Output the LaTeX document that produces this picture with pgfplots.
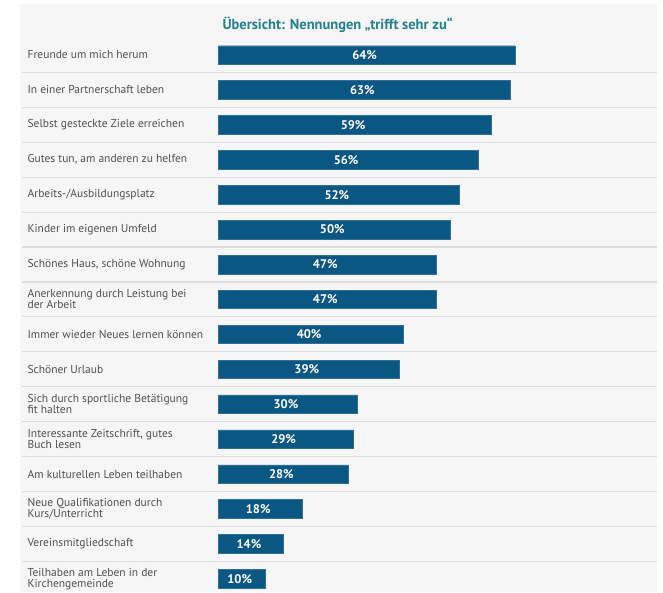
\documentclass[border=0pt]{standalone}
\usepackage{fontspec}
\setmainfont{PT Sans}
\usepackage{pgfplots}
\pgfplotsset{compat=1.18}
\usepackage{pgfplotstable}

\definecolor{barblue}{HTML}{0B5784}
\definecolor{titleteal}{HTML}{23808C}
\definecolor{panelbg}{HTML}{F6F6F6}
\definecolor{sepgray}{HTML}{DDDDDD}
\definecolor{labelgray}{HTML}{505050}

% row index (top = 0), share "trifft sehr zu" in %
\pgfplotstableread[col sep=comma]{
y,v
0,64
1,63
2,59
3,56
4,52
5,50
6,47
7,47
8,40
9,39
10,30
11,29
12,28
13,18
14,14
15,10
}\data

\begin{document}
\begin{tikzpicture}
\begin{axis}[
    scale only axis,
    width=663pt, height=592pt,
    xmin=-47.19, xmax=96.0,
    ymin=-1.575, ymax=15.374,
    y dir=reverse,
    axis on top,
    axis line style={draw=none},
    xtick=\empty,
    ytick={0,...,15},
    major tick length=0pt,
    yticklabels={
        {Freunde um mich herum},
        {In einer Partnerschaft leben},
        {Selbst gesteckte Ziele erreichen},
        {Gutes tun, am anderen zu helfen},
        {Arbeits-/Ausbildungsplatz},
        {Kinder im eigenen Umfeld},
        {Schönes Haus, schöne Wohnung},
        {Anerkennung durch Leistung bei\\der Arbeit},
        {Immer wieder Neues lernen können},
        {Schöner Urlaub},
        {Sich durch sportliche Betätigung\\fit halten},
        {Interessante Zeitschrift, gutes\\Buch lesen},
        {Am kulturellen Leben teilhaben},
        {Neue Qualifikationen durch\\Kurs/Unterricht},
        {Vereinsmitgliedschaft},
        {Teilhaben am Leben in der\\Kirchengemeinde}},
    yticklabel style={anchor=west, xshift=24pt, align=left,
        font=\fontsize{11.5}{11}\selectfont, text=labelgray},
    bar width=18.5pt,
    clip=false,
]
% panel and row separators
\fill[panelbg] (axis cs:-42.87,-1.46) rectangle (axis cs:94.71,15.374);
\pgfplotsinvokeforeach{0,...,14}{
    \draw[sepgray, line width=1.2pt] (axis cs:-42.44,#1+0.5) -- (axis cs:94.71,#1+0.5);
}
\node[anchor=west, font=\bfseries\fontsize{14.5}{16}\selectfont, text=titleteal]
    at (axis cs:0.1,-0.86) {Übersicht: Nennungen „trifft sehr zu“};

\addplot[xbar, fill=barblue, draw=barblue!85!white] table[x=v, y=y] {\data};

% value labels centred in the bars
\addplot[draw=none, mark=none,
    nodes near coords={\pgfmathprintnumber[assume math mode=true]{\pgfplotspointmeta}\%},
    point meta=explicit,
    nodes near coords style={text=white, font=\bfseries\fontsize{12.5}{14}\selectfont, anchor=center, xshift=-2pt}]
    table[x expr=\thisrow{v}/2, y=y, meta=v] {\data};
\end{axis}
\end{tikzpicture}
\end{document}
